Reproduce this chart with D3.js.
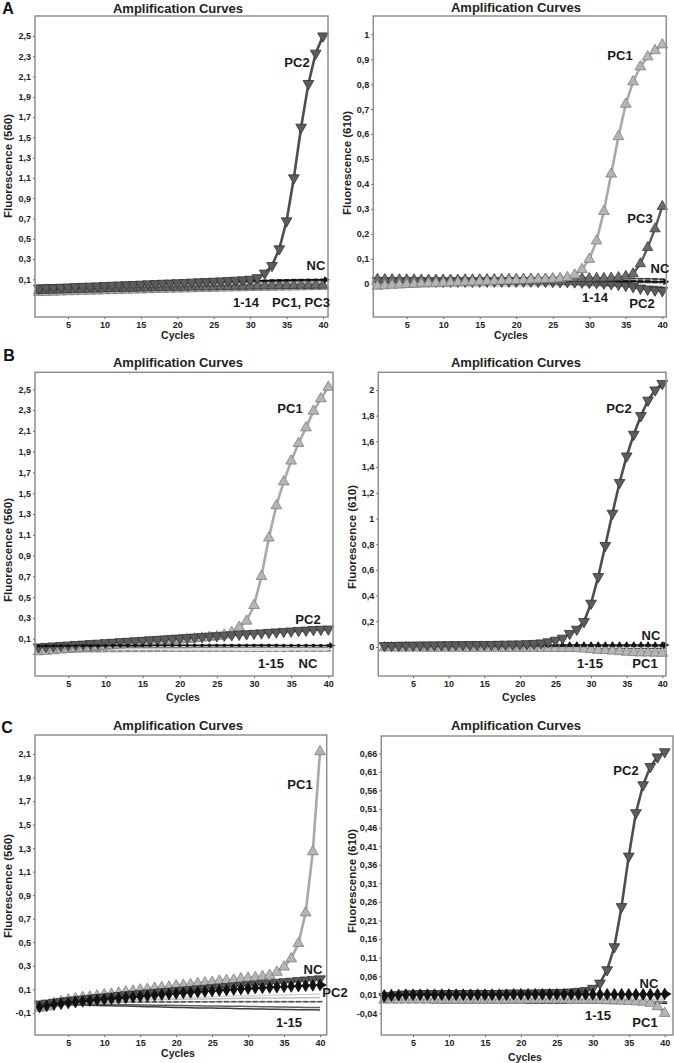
<!DOCTYPE html>
<html>
<head>
<meta charset="utf-8">
<script src="https://cdn.jsdelivr.net/npm/d3@7"></script>
<style>
  body { margin: 0; background: #fff; }
  svg { display: block; font-family: "Liberation Sans", Arial, sans-serif; }
</style>
</head>
<body>
<script>
var width = 674, height = 1063;

var cycles = [1,2,3,4,5,6,7,8,9,10,11,12,13,14,15,16,17,18,19,20,
              21,22,23,24,25,26,27,28,29,30,31,32,33,34,35,36,37,38,39,40];
var xTicks = [5,10,15,20,25,30,35,40];

var ticksA560 = [0.1,0.3,0.5,0.7,0.9,1.1,1.3,1.5,1.7,1.9,2.1,2.3,2.5];
var ticksA610 = [0,0.1,0.2,0.3,0.4,0.5,0.6,0.7,0.8,0.9,1];
var ticksB560 = [0.1,0.3,0.5,0.7,0.9,1.1,1.3,1.5,1.7,1.9,2.1,2.3,2.5];
var ticksB610 = [0,0.2,0.4,0.6,0.8,1,1.2,1.4,1.6,1.8,2];
var ticksC560 = [-0.1,0.1,0.3,0.5,0.7,0.9,1.1,1.3,1.5,1.7,1.9,2.1];
var ticksC610 = [-0.04,0.01,0.06,0.11,0.16,0.21,0.26,0.31,0.36,0.41,0.46,0.51,0.56,0.61,0.66];

// ---- A, 560 nm ----
var aL_PC2 = [0.012,0.015,0.017,0.02,0.023,0.026,0.029,0.031,0.034,0.037,0.04,0.043,0.046,0.048,0.051,0.054,0.057,0.06,0.062,0.065,0.068,0.071,0.074,0.077,0.08,0.083,0.086,0.09,0.094,0.1,0.115,0.16,0.235,0.4,0.676,1.1,1.6,2.03,2.33,2.5];
var aL_NC  = [0.035,0.037,0.038,0.04,0.041,0.043,0.045,0.046,0.048,0.05,0.051,0.053,0.055,0.056,0.058,0.06,0.061,0.063,0.065,0.066,0.068,0.07,0.071,0.073,0.075,0.076,0.078,0.08,0.081,0.083,0.085,0.086,0.088,0.089,0.09,0.092,0.093,0.094,0.095,0.096];
var aL_PC1 = [-0.03,-0.028,-0.026,-0.024,-0.022,-0.02,-0.018,-0.016,-0.014,-0.012,-0.011,-0.009,-0.007,-0.005,-0.004,-0.002,0,0.002,0.003,0.005,0.007,0.008,0.01,0.011,0.013,0.014,0.016,0.017,0.018,0.02,0.021,0.022,0.023,0.024,0.025,0.026,0.027,0.028,0.029,0.03];
var aL_PC3 = [-0.01,-0.008,-0.006,-0.004,-0.003,-0.001,0.001,0.003,0.004,0.006,0.008,0.009,0.011,0.012,0.014,0.015,0.017,0.018,0.02,0.021,0.022,0.024,0.025,0.026,0.027,0.029,0.03,0.031,0.032,0.033,0.034,0.035,0.036,0.037,0.038,0.039,0.04,0.04,0.041,0.042];
var aL_S1  = [0.02,0.022,0.024,0.025,0.027,0.029,0.031,0.033,0.034,0.036,0.038,0.04,0.041,0.043,0.045,0.047,0.048,0.05,0.052,0.054,0.055,0.057,0.059,0.061,0.062,0.064,0.066,0.068,0.069,0.071,0.073,0.074,0.076,0.077,0.079,0.08,0.081,0.083,0.084,0.085];
var aL_S2  = [0,0.002,0.003,0.005,0.006,0.008,0.01,0.011,0.013,0.014,0.016,0.017,0.019,0.02,0.022,0.023,0.025,0.026,0.028,0.029,0.031,0.032,0.034,0.035,0.037,0.038,0.04,0.041,0.043,0.044,0.046,0.047,0.049,0.05,0.052,0.053,0.055,0.056,0.058,0.06];
var aL_S3  = [0.01,0.012,0.013,0.015,0.016,0.018,0.019,0.021,0.022,0.024,0.025,0.027,0.028,0.03,0.031,0.033,0.034,0.036,0.037,0.039,0.04,0.042,0.043,0.045,0.046,0.048,0.049,0.051,0.052,0.054,0.055,0.057,0.058,0.06,0.061,0.063,0.064,0.066,0.068,0.07];
var aL_S4  = [-0.02,-0.018,-0.016,-0.015,-0.013,-0.011,-0.01,-0.008,-0.006,-0.005,-0.003,-0.001,0,0.002,0.004,0.005,0.007,0.009,0.01,0.012,0.014,0.015,0.017,0.019,0.02,0.022,0.024,0.025,0.027,0.029,0.03,0.032,0.034,0.035,0.037,0.039,0.04,0.042,0.043,0.045];

// ---- A, 610 nm ----
var aR_PC1 = [-0.01,-0.008,-0.006,-0.005,-0.003,-0.002,0,0.001,0.002,0.003,0.004,0.005,0.006,0.007,0.008,0.009,0.01,0.011,0.012,0.013,0.014,0.015,0.016,0.017,0.018,0.02,0.025,0.035,0.057,0.098,0.172,0.29,0.44,0.59,0.72,0.81,0.87,0.91,0.935,0.958];
var aR_PC3 = [0.018,0.017,0.017,0.016,0.016,0.016,0.015,0.015,0.015,0.015,0.015,0.015,0.016,0.016,0.016,0.017,0.017,0.017,0.018,0.018,0.018,0.019,0.019,0.019,0.02,0.02,0.02,0.021,0.021,0.021,0.022,0.022,0.023,0.025,0.03,0.04,0.08,0.145,0.22,0.31];
var aR_PC2 = [0.012,0.012,0.012,0.011,0.011,0.011,0.011,0.01,0.01,0.01,0.01,0.01,0.01,0.01,0.01,0.01,0.01,0.01,0.01,0.01,0.01,0.01,0.009,0.009,0.009,0.008,0.008,0.007,0.006,0.005,0.004,0.002,0,-0.003,-0.007,-0.012,-0.018,-0.022,-0.026,-0.028];
var aR_NC  = [0.015,0.015,0.014,0.014,0.014,0.014,0.013,0.013,0.013,0.013,0.013,0.013,0.013,0.013,0.013,0.013,0.013,0.013,0.013,0.013,0.013,0.013,0.013,0.013,0.013,0.013,0.012,0.012,0.012,0.012,0.011,0.011,0.011,0.01,0.01,0.01,0.009,0.009,0.008,0.008];
var aR_S1  = [0.02,0.02,0.02,0.021,0.021,0.021,0.021,0.022,0.022,0.022,0.022,0.022,0.022,0.023,0.023,0.023,0.023,0.023,0.024,0.024,0.024,0.024,0.024,0.025,0.025,0.025,0.025,0.025,0.025,0.024,0.024,0.023,0.023,0.022,0.022,0.021,0.02,0.02,0.019,0.018];
var aR_S2  = [-0.012,-0.012,-0.012,-0.011,-0.011,-0.011,-0.011,-0.01,-0.01,-0.01,-0.01,-0.009,-0.009,-0.009,-0.009,-0.008,-0.008,-0.008,-0.008,-0.007,-0.007,-0.007,-0.006,-0.006,-0.006,-0.006,-0.006,-0.006,-0.006,-0.007,-0.007,-0.008,-0.008,-0.009,-0.009,-0.01,-0.01,-0.011,-0.011,-0.012];
var aR_S3  = [0.002,0.002,0.003,0.003,0.003,0.003,0.004,0.004,0.004,0.004,0.005,0.005,0.005,0.005,0.006,0.006,0.006,0.006,0.007,0.007,0.007,0.007,0.008,0.008,0.008,0.008,0.008,0.008,0.008,0.008,0.007,0.007,0.006,0.006,0.005,0.005,0.004,0.004,0.003,0.003];
var aR_S4  = [-0.005,-0.005,-0.005,-0.005,-0.004,-0.004,-0.004,-0.004,-0.003,-0.003,-0.003,-0.003,-0.003,-0.002,-0.002,-0.002,-0.002,-0.002,-0.001,-0.001,-0.001,-0.001,-0.001,-0.001,-0.001,-0.002,-0.002,-0.003,-0.004,-0.005,-0.006,-0.007,-0.008,-0.009,-0.01,-0.011,-0.012,-0.013,-0.014,-0.015];

// ---- B, 560 nm ----
var bL_PC1 = [-0.025,-0.02,-0.014,-0.008,-0.002,0.004,0.01,0.016,0.022,0.028,0.034,0.04,0.046,0.052,0.058,0.064,0.07,0.076,0.082,0.088,0.094,0.1,0.107,0.114,0.121,0.135,0.16,0.21,0.27,0.42,0.7,1.07,1.38,1.61,1.81,1.98,2.13,2.29,2.41,2.52];
var bL_PC2 = [0.02,0.025,0.029,0.034,0.038,0.043,0.047,0.052,0.056,0.061,0.065,0.07,0.074,0.079,0.083,0.088,0.092,0.097,0.101,0.106,0.11,0.115,0.119,0.124,0.128,0.133,0.137,0.142,0.146,0.151,0.155,0.16,0.164,0.169,0.173,0.178,0.182,0.187,0.19,0.192];
var bL_NC  = [0.03,0.031,0.031,0.032,0.032,0.032,0.033,0.033,0.033,0.034,0.034,0.034,0.034,0.035,0.035,0.035,0.035,0.035,0.036,0.036,0.036,0.036,0.036,0.036,0.036,0.036,0.036,0.036,0.036,0.036,0.036,0.036,0.036,0.035,0.035,0.035,0.035,0.035,0.034,0.034];
var bL_S1  = [0.004,0.004,0.003,0.003,0.003,0.002,0.002,0.002,0.002,0.001,0.001,0.001,0.001,0,0,0,0,0,-0.001,-0.001,-0.001,-0.001,-0.002,-0.002,-0.002,-0.002,-0.002,-0.003,-0.003,-0.003,-0.003,-0.003,-0.003,-0.003,-0.002,-0.002,-0.002,-0.002,-0.001,-0.001];
var bL_S2  = [-0.02,-0.02,-0.019,-0.019,-0.018,-0.018,-0.018,-0.017,-0.017,-0.017,-0.016,-0.016,-0.016,-0.016,-0.015,-0.015,-0.015,-0.015,-0.015,-0.015,-0.015,-0.015,-0.015,-0.015,-0.015,-0.016,-0.016,-0.016,-0.016,-0.017,-0.017,-0.017,-0.017,-0.017,-0.017,-0.017,-0.016,-0.016,-0.016,-0.015];
var bL_S3  = [0.01,0.01,0.011,0.011,0.011,0.012,0.012,0.012,0.013,0.013,0.013,0.013,0.014,0.014,0.014,0.014,0.015,0.015,0.015,0.015,0.015,0.016,0.016,0.016,0.016,0.016,0.016,0.017,0.017,0.017,0.017,0.017,0.017,0.017,0.017,0.017,0.017,0.017,0.017,0.017];
var bL_S4  = [-0.03,-0.029,-0.028,-0.027,-0.026,-0.025,-0.024,-0.023,-0.022,-0.021,-0.021,-0.02,-0.019,-0.019,-0.018,-0.018,-0.017,-0.017,-0.016,-0.016,-0.016,-0.015,-0.015,-0.015,-0.014,-0.014,-0.014,-0.013,-0.013,-0.013,-0.013,-0.012,-0.012,-0.012,-0.012,-0.011,-0.011,-0.011,-0.011,-0.01];

// ---- B, 610 nm ----
var bR_PC2 = [0.01,0.011,0.012,0.013,0.013,0.014,0.015,0.015,0.016,0.016,0.017,0.017,0.018,0.018,0.019,0.019,0.02,0.021,0.022,0.023,0.025,0.027,0.031,0.04,0.052,0.068,0.105,0.138,0.197,0.34,0.547,0.79,1.04,1.28,1.486,1.655,1.8,1.92,2.0,2.05];
var bR_NC  = [0.014,0.014,0.014,0.015,0.015,0.015,0.015,0.015,0.015,0.016,0.016,0.016,0.016,0.016,0.016,0.016,0.016,0.016,0.016,0.016,0.016,0.016,0.016,0.016,0.016,0.016,0.016,0.016,0.016,0.016,0.016,0.016,0.016,0.016,0.016,0.016,0.016,0.016,0.015,0.015];
var bR_PC1 = [-0.006,-0.006,-0.007,-0.007,-0.007,-0.007,-0.008,-0.008,-0.008,-0.008,-0.008,-0.009,-0.009,-0.009,-0.009,-0.009,-0.009,-0.01,-0.01,-0.01,-0.01,-0.01,-0.01,-0.01,-0.011,-0.011,-0.011,-0.012,-0.015,-0.02,-0.025,-0.028,-0.03,-0.035,-0.04,-0.043,-0.045,-0.046,-0.047,-0.048];
var bR_S1  = [-0.012,-0.012,-0.012,-0.012,-0.013,-0.013,-0.013,-0.013,-0.013,-0.013,-0.014,-0.014,-0.014,-0.014,-0.014,-0.014,-0.014,-0.014,-0.014,-0.014,-0.014,-0.014,-0.014,-0.014,-0.015,-0.015,-0.015,-0.015,-0.016,-0.016,-0.017,-0.017,-0.018,-0.018,-0.019,-0.019,-0.02,-0.02,-0.02,-0.021];
var bR_S2  = [-0.02,-0.02,-0.02,-0.021,-0.021,-0.021,-0.021,-0.021,-0.021,-0.022,-0.022,-0.022,-0.022,-0.022,-0.022,-0.022,-0.022,-0.022,-0.022,-0.022,-0.022,-0.022,-0.022,-0.023,-0.023,-0.023,-0.023,-0.024,-0.024,-0.025,-0.025,-0.026,-0.027,-0.028,-0.028,-0.029,-0.03,-0.03,-0.031,-0.031];
var bR_S3  = [-0.006,-0.006,-0.006,-0.006,-0.006,-0.007,-0.007,-0.007,-0.007,-0.007,-0.007,-0.007,-0.007,-0.007,-0.007,-0.007,-0.007,-0.007,-0.008,-0.008,-0.008,-0.008,-0.008,-0.008,-0.008,-0.008,-0.008,-0.008,-0.008,-0.008,-0.008,-0.008,-0.008,-0.009,-0.009,-0.009,-0.009,-0.009,-0.009,-0.009];
var bR_S4  = [0.003,0.003,0.003,0.003,0.003,0.003,0.003,0.003,0.003,0.003,0.003,0.003,0.003,0.003,0.002,0.002,0.002,0.002,0.002,0.002,0.002,0.002,0.002,0.002,0.002,0.002,0.002,0.001,0.001,0.001,0.001,0.001,0.001,0.001,0,0,0,0,0,0];

// ---- C, 560 nm ----
var cL_PC1 = [-0.06,-0.05,-0.02,-0.005,0.01,0.02,0.03,0.035,0.045,0.055,0.06,0.07,0.08,0.085,0.095,0.1,0.11,0.115,0.12,0.13,0.135,0.14,0.15,0.155,0.16,0.17,0.175,0.18,0.19,0.195,0.2,0.21,0.22,0.245,0.29,0.36,0.49,0.75,1.27,2.12];
var cL_PC2 = [-0.025,-0.018,-0.011,-0.004,0.003,0.01,0.016,0.022,0.028,0.034,0.04,0.046,0.052,0.057,0.062,0.068,0.073,0.078,0.083,0.088,0.093,0.098,0.103,0.108,0.113,0.118,0.123,0.128,0.133,0.138,0.143,0.148,0.153,0.158,0.163,0.168,0.173,0.178,0.183,0.188];
var cL_NC  = [-0.05,-0.04,-0.03,-0.022,-0.015,-0.008,-0.002,0.004,0.01,0.015,0.02,0.025,0.03,0.035,0.04,0.045,0.05,0.055,0.06,0.065,0.07,0.074,0.078,0.082,0.086,0.09,0.094,0.098,0.102,0.106,0.11,0.113,0.116,0.119,0.122,0.125,0.128,0.131,0.134,0.137];
var cL_S1  = [0,0.002,0.003,0.005,0.006,0.008,0.01,0.011,0.013,0.014,0.016,0.017,0.019,0.02,0.022,0.023,0.025,0.026,0.028,0.029,0.031,0.032,0.034,0.035,0.037,0.038,0.04,0.041,0.043,0.044,0.046,0.047,0.049,0.05,0.052,0.053,0.055,0.056,0.058,0.06];
var cL_S2  = [-0.005,-0.004,-0.003,-0.002,-0.001,0,0.001,0.002,0.003,0.004,0.005,0.006,0.007,0.008,0.009,0.01,0.011,0.012,0.013,0.014,0.015,0.016,0.017,0.018,0.019,0.02,0.021,0.022,0.023,0.023,0.024,0.025,0.025,0.026,0.027,0.027,0.028,0.029,0.029,0.03];
var cL_S3  = [-0.01,-0.01,-0.01,-0.01,-0.01,-0.009,-0.009,-0.009,-0.009,-0.009,-0.008,-0.008,-0.008,-0.008,-0.008,-0.007,-0.007,-0.007,-0.007,-0.007,-0.006,-0.006,-0.006,-0.006,-0.006,-0.005,-0.005,-0.005,-0.005,-0.005,-0.005,-0.005,-0.005,-0.005,-0.005,-0.005,-0.005,-0.005,-0.005,-0.005];
var cL_S4  = [-0.02,-0.021,-0.022,-0.023,-0.024,-0.025,-0.025,-0.026,-0.027,-0.028,-0.029,-0.03,-0.031,-0.032,-0.033,-0.034,-0.035,-0.035,-0.036,-0.037,-0.038,-0.039,-0.04,-0.041,-0.042,-0.043,-0.044,-0.045,-0.045,-0.046,-0.047,-0.048,-0.049,-0.05,-0.051,-0.052,-0.053,-0.054,-0.055,-0.055];
var cL_S5  = [-0.025,-0.027,-0.028,-0.03,-0.031,-0.033,-0.034,-0.036,-0.037,-0.039,-0.04,-0.042,-0.043,-0.045,-0.046,-0.048,-0.049,-0.051,-0.052,-0.054,-0.055,-0.056,-0.058,-0.059,-0.06,-0.061,-0.062,-0.064,-0.065,-0.066,-0.067,-0.068,-0.069,-0.07,-0.071,-0.072,-0.073,-0.074,-0.074,-0.075];

// ---- C, 610 nm ----
var cR_PC2 = [0.005,0.008,0.01,0.012,0.012,0.013,0.013,0.013,0.013,0.013,0.013,0.013,0.013,0.013,0.013,0.013,0.013,0.014,0.014,0.014,0.014,0.014,0.015,0.015,0.015,0.016,0.017,0.019,0.021,0.027,0.041,0.077,0.139,0.247,0.383,0.5,0.575,0.624,0.65,0.664];
var cR_NC  = [0.008,0.009,0.009,0.01,0.01,0.01,0.01,0.01,0.01,0.01,0.01,0.01,0.01,0.01,0.01,0.01,0.01,0.01,0.011,0.011,0.011,0.011,0.011,0.011,0.011,0.011,0.011,0.011,0.011,0.011,0.011,0.011,0.011,0.011,0.011,0.011,0.011,0.011,0.011,0.012];
var cR_PC1 = [-0.004,-0.004,-0.004,-0.004,-0.004,-0.004,-0.004,-0.004,-0.004,-0.004,-0.004,-0.004,-0.004,-0.004,-0.004,-0.004,-0.004,-0.004,-0.004,-0.004,-0.004,-0.004,-0.004,-0.004,-0.004,-0.004,-0.005,-0.005,-0.005,-0.005,-0.005,-0.006,-0.006,-0.007,-0.008,-0.009,-0.01,-0.013,-0.022,-0.04];
var cR_S1  = [-0.001,-0.001,-0.001,-0.001,-0.001,-0.001,-0.001,-0.001,-0.001,-0.001,-0.001,-0.001,-0.001,-0.002,-0.002,-0.002,-0.002,-0.002,-0.002,-0.002,-0.002,-0.002,-0.002,-0.002,-0.002,-0.002,-0.002,-0.002,-0.003,-0.003,-0.003,-0.003,-0.003,-0.003,-0.003,-0.003,-0.003,-0.003,-0.003,-0.003];
var cR_S2  = [-0.006,-0.006,-0.006,-0.006,-0.006,-0.006,-0.007,-0.007,-0.007,-0.007,-0.007,-0.007,-0.007,-0.007,-0.007,-0.007,-0.007,-0.007,-0.007,-0.007,-0.007,-0.008,-0.008,-0.008,-0.008,-0.008,-0.008,-0.008,-0.008,-0.008,-0.008,-0.008,-0.008,-0.008,-0.009,-0.009,-0.009,-0.009,-0.009,-0.009];
var cR_S3  = [-0.01,-0.01,-0.01,-0.01,-0.01,-0.01,-0.01,-0.011,-0.011,-0.011,-0.011,-0.011,-0.011,-0.011,-0.011,-0.011,-0.011,-0.011,-0.011,-0.011,-0.012,-0.012,-0.012,-0.012,-0.012,-0.012,-0.012,-0.012,-0.012,-0.012,-0.012,-0.013,-0.013,-0.013,-0.013,-0.013,-0.013,-0.013,-0.013,-0.013];
var cR_S4  = [0.003,0.003,0.003,0.003,0.003,0.003,0.003,0.003,0.003,0.003,0.003,0.003,0.004,0.004,0.004,0.004,0.004,0.004,0.004,0.004,0.004,0.004,0.004,0.004,0.004,0.004,0.004,0.004,0.004,0.004,0.004,0.004,0.004,0.004,0.004,0.004,0.004,0.004,0.004,0.004];

// styles for the curve kinds
var LIGHT = {line: "#a9a9a9", width: 2.6, sym: "up",   fill: "#b5b5b5", stroke: "#7d7d7d", size: 50};
var DARK2 = {line: "#4e4e4e", width: 2.6, sym: "down", fill: "#5c5c5c", stroke: "#333",    size: 50};
var DARK3 = {line: "#5a5a5a", width: 2.4, sym: "up",   fill: "#6c6c6c", stroke: "#3a3a3a", size: 46};
function ncStyle(sym, size) { return {line: "#111", width: 1.6, sym: sym, fill: "#111", stroke: "#111", size: size, arrow: true}; }
function smp(color, w, mk) { return {line: color, width: w, sym: mk ? "dash" : null, fill: mk, stroke: "none", size: 0}; }

var panels = [
  { letter: "A", lx: 8, ly: 8, box: [35, 16, 328, 317], xp: [68, 323], yc: [2.5, 36, 0.1, 279.3], ticks: ticksA560,
    ylab: "Fluorescence (560)", ylx: 8, yly: 166, tx: 178, ty: 8, cx: 178, cy: 335,
    series: [[aL_S4, smp("#c8c8c8", 2, "#999")], [aL_S2, smp("#8a8a8a", 1.5, "#eee")], [aL_S3, smp("#b0b0b0", 2, "#fff")],
             [aL_S1, smp("#6e6e6e", 1.5, "#ddd")], [aL_PC1, LIGHT], [aL_PC3, DARK3], [aL_NC, ncStyle("dash", 0)], [aL_PC2, DARK2]],
    notes: [["PC2", 297, 62], ["NC", 316, 265], ["1-14", 246, 302], ["PC1, PC3", 301, 302]] },
  { letter: "", box: [373.3, 16, 666.3, 317], xp: [406.7, 662.3], yc: [1, 34.3, 0, 283.7], ticks: ticksA610,
    ylab: "Fluorescence (610)", ylx: 347, yly: 163, tx: 516, ty: 7, cx: 511, cy: 335,
    series: [[aR_S2, smp("#cfcfcf", 2.5, null)], [aR_S4, smp("#555", 1.2, "#222")], [aR_S3, smp("#9a9a9a", 1.5, null)],
             [aR_S1, smp("#6a6a6a", 1.5, "#333")], [aR_PC2, DARK2], [aR_NC, ncStyle("dash", 0)], [aR_PC3, DARK3], [aR_PC1, LIGHT]],
    notes: [["PC1", 620, 55], ["PC3", 640, 218], ["NC", 660, 268], ["1-14", 595, 297], ["PC2", 642, 303]] },
  { letter: "B", lx: 9, ly: 355, box: [35, 372.3, 333, 676], xp: [68.3, 328.3], yc: [2.5, 389.3, 0.1, 638.7], ticks: ticksB560,
    ylab: "Fluorescence (560)", ylx: 8, yly: 550, tx: 178, ty: 362, cx: 183, cy: 697,
    series: [[bL_S4, smp("#bdbdbd", 2.5, null)], [bL_S2, smp("#a0a0a0", 1.5, "#666")], [bL_S1, smp("#dedede", 3, null)],
             [bL_S3, smp("#808080", 1.2, null)], [bL_PC1, LIGHT], [bL_PC2, DARK2], [bL_NC, ncStyle("dot", 0)]],
    notes: [["PC1", 290, 408], ["PC2", 308, 619], ["1-15", 271, 663], ["NC", 308, 663]] },
  { letter: "", box: [378.3, 372.3, 666, 676], xp: [413, 662.3], yc: [2, 390, 0, 647], ticks: ticksB610,
    ylab: "Fluorescence (610)", ylx: 352, yly: 537, tx: 516, ty: 362, cx: 519, cy: 697,
    series: [[bR_S2, smp("#a5a5a5", 2, "#777")], [bR_S1, smp("#c9c9c9", 3, null)], [bR_S3, smp("#555", 1.2, "#222")],
             [bR_S4, smp("#e2e2e2", 2, null)], [bR_PC1, LIGHT], [bR_NC, ncStyle("up", 14)], [bR_PC2, DARK2]],
    notes: [["PC2", 619, 408], ["NC", 651, 635], ["1-15", 590, 663], ["PC1", 645, 663]] },
  { letter: "C", lx: 7, ly: 727, box: [35, 735, 326.7, 1035], xp: [68.3, 320], yc: [2.1, 754, 0.1, 989.3], ticks: ticksC560,
    ylab: "Fluorescence (560)", ylx: 8, yly: 886, tx: 178, ty: 725, cx: 178, cy: 1053,
    series: [[cL_S1, smp("#d4d4d4", 1.5, null)], [cL_S2, smp("#bdbdbd", 1.5, null)], [cL_S3, smp("#9c9c9c", 1.5, "#555")],
             [cL_S4, smp("#5e5e5e", 1.5, null)], [cL_S5, smp("#3e3e3e", 1.5, null)],
             [cL_PC1, LIGHT], [cL_PC2, DARK2], [cL_NC, ncStyle("diamond", 40)]],
    notes: [["PC1", 300, 784], ["NC", 313, 969], ["PC2", 335, 992], ["1-15", 289, 1022]] },
  { letter: "", box: [381.3, 736, 673, 1035], xp: [413, 664.7], yc: [0.66, 753.3, -0.04, 1013.3], ticks: ticksC610,
    ylab: "Fluorescence (610)", ylx: 352, yly: 881, tx: 516, ty: 725, cx: 525, cy: 1057,
    series: [[cR_S3, smp("#5a5a5a", 1.5, "#222")], [cR_S2, smp("#a0a0a0", 2, "#666")], [cR_S1, smp("#cccccc", 2.5, null)],
             [cR_S4, smp("#e0e0e0", 2, null)], [cR_PC1, LIGHT], [cR_PC2, DARK2], [cR_NC, ncStyle("diamond", 40)]],
    notes: [["PC2", 626, 770], ["NC", 649, 983], ["1-15", 598, 1015], ["PC1", 645, 1022]] }
];

var svg = d3.select("body").append("svg")
  .attr("width", width)
  .attr("height", height);

function fmt(v) { return String(+v.toFixed(2)).replace(".", ","); }

function symPath(kind, size) {
  if (kind === "up" || kind === "down") return d3.symbol(d3.symbolTriangle, size)();
  if (kind === "diamond") return d3.symbol(d3.symbolDiamond, size)();
  if (kind === "dot") return d3.symbol(d3.symbolSquare, 5)();
  return "M-2.5,-0.8H2.5V0.8H-2.5Z"; // small dash
}

panels.forEach(function (p) {
  var b = p.box;
  var x = d3.scaleLinear().domain([5, 40]).range(p.xp);
  var y = d3.scaleLinear().domain([p.yc[0], p.yc[2]]).range([p.yc[1], p.yc[3]]);
  var g = svg.append("g");

  // title, axis titles, panel letter
  g.append("text").attr("x", p.tx).attr("y", p.ty).attr("dy", "0.36em")
    .attr("text-anchor", "middle").attr("font-size", 13).attr("font-weight", "bold").attr("fill", "#222")
    .text("Amplification Curves");
  g.append("text").attr("x", p.cx).attr("y", p.cy).attr("dy", "0.36em")
    .attr("text-anchor", "middle").attr("font-size", 10.5).attr("font-weight", "bold").attr("fill", "#222")
    .text("Cycles");
  g.append("text").attr("transform", "translate(" + p.ylx + "," + p.yly + ") rotate(-90)")
    .attr("dy", "0.36em").attr("text-anchor", "middle").attr("font-size", 11.5).attr("font-weight", "bold").attr("fill", "#222")
    .text(p.ylab);
  if (p.letter) {
    g.append("text").attr("x", p.lx).attr("y", p.ly).attr("dy", "0.36em")
      .attr("text-anchor", "middle").attr("font-size", 16).attr("font-weight", "bold").attr("fill", "#111")
      .text(p.letter);
  }

  // axes
  var ya = g.append("g").attr("transform", "translate(" + b[0] + ",0)")
    .call(d3.axisLeft(y).tickValues(p.ticks).tickFormat(fmt).tickSize(2).tickPadding(2));
  var xa = g.append("g").attr("transform", "translate(0," + b[3] + ")")
    .call(d3.axisBottom(x).tickValues(xTicks).tickFormat(d3.format("d")).tickSize(2).tickPadding(3));
  [ya, xa].forEach(function (a) {
    a.select(".domain").remove();
    a.selectAll("line").attr("stroke", "#555");
    a.selectAll("text").attr("font-size", 9).attr("font-weight", "bold").attr("fill", "#222")
      .attr("font-family", "'Liberation Sans', Arial, sans-serif");
  });

  // curves
  var line = d3.line().x(function (d) { return x(d.c); }).y(function (d) { return y(d.v); });
  var plot = g.append("g");
  p.series.forEach(function (s) {
    var vals = s[0], st = s[1];
    var pts = cycles.map(function (c, i) { return {c: c, v: vals[i]}; });
    plot.append("path").datum(pts).attr("d", line)
      .attr("fill", "none").attr("stroke", st.line).attr("stroke-width", st.width)
      .attr("stroke-linejoin", "round");
    if (st.sym) {
      plot.append("g").selectAll("path").data(pts).enter().append("path")
        .attr("d", symPath(st.sym, st.size))
        .attr("transform", function (d) {
          return "translate(" + x(d.c) + "," + y(d.v) + ")" + (st.sym === "down" ? " rotate(180)" : "");
        })
        .attr("fill", st.fill).attr("stroke", st.stroke).attr("stroke-width", st.stroke === "none" ? 0 : 0.8);
    }
    if (st.arrow) {
      var last = pts[pts.length - 1];
      plot.append("path").attr("d", "M0,-3.5L6,0L0,3.5Z")
        .attr("transform", "translate(" + (x(last.c) + 1) + "," + y(last.v) + ")")
        .attr("fill", "#111");
    }
  });

  // frame
  g.append("rect").attr("x", b[0]).attr("y", b[1]).attr("width", b[2] - b[0]).attr("height", b[3] - b[1])
    .attr("fill", "none").attr("stroke", "#8e8e8e").attr("stroke-width", 1.5);

  // annotations
  g.selectAll("text.note").data(p.notes).enter().append("text").attr("class", "note")
    .attr("x", function (d) { return d[1]; }).attr("y", function (d) { return d[2]; }).attr("dy", "0.36em")
    .attr("text-anchor", "middle").attr("font-size", 13).attr("font-weight", "bold").attr("fill", "#1a1a1a")
    .text(function (d) { return d[0]; });
});
</script>
</body>
</html>
